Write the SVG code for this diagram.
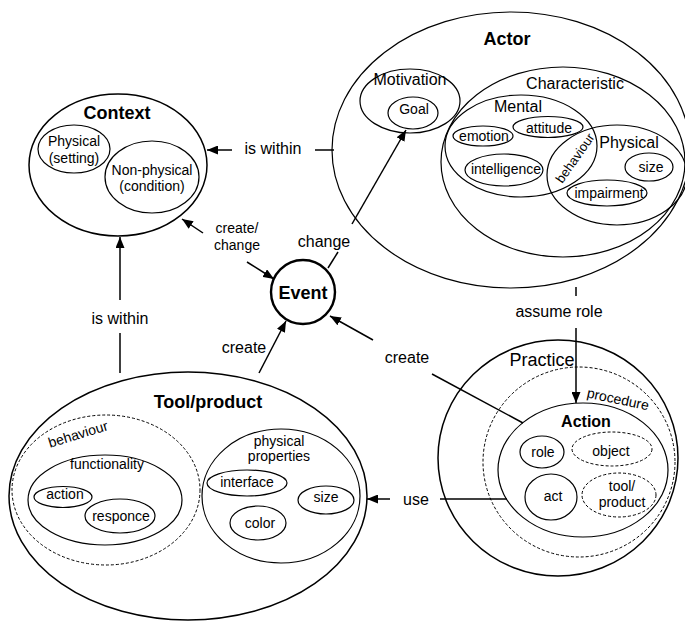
<svg xmlns="http://www.w3.org/2000/svg" width="685" height="621" viewBox="0 0 685 621">
  <style>
    .sh { fill: none; stroke: #000; stroke-width: 1.2; }
    .big { fill: none; stroke: #000; stroke-width: 1.5; }
    .dash { fill: none; stroke: #000; stroke-width: 1; stroke-dasharray: 3 2; }
    .ev { fill: #fff; stroke: #000; stroke-width: 2.4; }
    .ln { fill: none; stroke: #000; stroke-width: 1.5; }
    text { font-family: "Liberation Sans", Arial, sans-serif; fill: #000; text-anchor: middle; }
    .s { font-size: 14px; }
    .m { font-size: 16px; }
    .t { font-size: 18px; font-weight: bold; }
  </style>
  <defs>
    <marker id="arr" markerWidth="11" markerHeight="9" refX="11" refY="4.5" orient="auto" markerUnits="userSpaceOnUse">
      <path d="M0,0 L11,4.5 L0,9 Z" fill="#000"/>
    </marker>
  </defs>
  <rect width="685" height="621" fill="#fff"/>

  <!-- Context -->
  <g id="context">
    <ellipse class="big" cx="118" cy="165" rx="89" ry="71"/>
    <text class="t" x="117" y="119">Context</text>
    <ellipse class="sh" cx="74" cy="149" rx="36" ry="24"/>
    <text class="s" x="74" y="146">Physical</text>
    <text class="s" x="74" y="163">(setting)</text>
    <ellipse class="sh" cx="152" cy="177" rx="47" ry="36"/>
    <text class="s" x="152" y="175">Non-physical</text>
    <text class="s" x="152" y="191">(condition)</text>
  </g>

  <!-- Actor -->
  <g id="actor">
    <ellipse class="sh" cx="511" cy="150" rx="179" ry="138"/>
    <text class="t" x="507" y="45">Actor</text>
    <ellipse class="sh" cx="410" cy="101" rx="50" ry="32"/>
    <text class="m" x="410" y="85">Motivation</text>
    <ellipse class="sh" cx="413" cy="113" rx="25" ry="16"/>
    <text class="s" x="414" y="114">Goal</text>
    <ellipse class="sh" cx="563" cy="162" rx="122" ry="95"/>
    <text class="m" x="575" y="89">Characteristic</text>
    <ellipse class="sh" cx="521" cy="146" rx="76" ry="51"/>
    <text class="m" x="518" y="112">Mental</text>
    <ellipse class="sh" cx="483" cy="136" rx="30" ry="10"/>
    <text class="s" x="484" y="141">emotion</text>
    <ellipse class="sh" cx="548" cy="127" rx="35" ry="10.5"/>
    <text class="s" x="549" y="133">attitude</text>
    <ellipse class="sh" cx="504" cy="170" rx="39" ry="16"/>
    <text class="s" x="506" y="174">intelligence</text>
    <ellipse class="sh" cx="617" cy="175" rx="70" ry="50"/>
    <text class="m" x="629" y="148">Physical</text>
    <ellipse class="sh" cx="649" cy="167" rx="24" ry="14"/>
    <text class="s" x="651" y="172">size</text>
    <ellipse class="sh" cx="607" cy="193" rx="40" ry="13"/>
    <text class="s" x="609" y="198">impairment</text>
    <text transform="translate(575,158) rotate(-55)" x="0" y="4.5" style="font-size:13px">behaviour</text>
  </g>

  <!-- Event -->
  <g id="event">
    <circle class="ev" cx="303" cy="292" r="32"/>
    <text class="t" x="303" y="299">Event</text>
  </g>

  <!-- Tool/product -->
  <g id="tool-product">
    <ellipse class="big" cx="188" cy="496" rx="179" ry="124"/>
    <text class="t" x="208" y="408">Tool/product</text>
    <ellipse class="dash" cx="106" cy="490" rx="94" ry="75"/>
    <text class="s" transform="translate(78,434) rotate(-17)" x="0" y="5">behaviour</text>
    <ellipse class="sh" cx="105" cy="500" rx="77" ry="45"/>
    <text class="s" x="107" y="469">functionality</text>
    <ellipse class="sh" cx="63" cy="497" rx="29" ry="10.5"/>
    <text class="s" x="65" y="499">action</text>
    <ellipse class="sh" cx="120" cy="516" rx="35" ry="17"/>
    <text class="s" x="121" y="521">responce</text>
    <ellipse class="sh" cx="281" cy="496" rx="79" ry="67"/>
    <text class="s" x="279" y="446">physical</text>
    <text class="s" x="279" y="461">properties</text>
    <ellipse class="sh" cx="247" cy="483" rx="40" ry="13"/>
    <text class="s" x="247" y="487">interface</text>
    <ellipse class="sh" cx="326" cy="500" rx="28" ry="14"/>
    <text class="s" x="326" y="502">size</text>
    <ellipse class="sh" cx="258" cy="523" rx="28" ry="17"/>
    <text class="s" x="260" y="528">color</text>
  </g>

  <!-- Practice -->
  <g id="practice">
    <ellipse class="big" cx="558" cy="458" rx="120" ry="118"/>
    <text class="m" x="542" y="366" style="font-size:18px">Practice</text>
    <ellipse class="dash" cx="579" cy="462" rx="96" ry="95"/>
    <text class="s" transform="translate(618,399) rotate(12)" x="0" y="5">procedure</text>
    <ellipse class="sh" cx="583" cy="470" rx="85" ry="67"/>
    <text class="t" x="586" y="427" style="font-size:16px">Action</text>
    <ellipse class="sh" cx="542" cy="452" rx="22" ry="16"/>
    <text class="s" x="543" y="457">role</text>
    <ellipse class="dash" cx="612" cy="449" rx="40" ry="17"/>
    <text class="s" x="611" y="456">object</text>
    <ellipse class="sh" cx="551" cy="497" rx="26" ry="23"/>
    <text class="s" x="553" y="501">act</text>
    <ellipse class="dash" cx="619" cy="495" rx="37" ry="22"/>
    <text class="s" x="622" y="491">tool/</text>
    <text class="s" x="622" y="507">product</text>
  </g>

  <!-- Connectors -->
  <g id="connectors">
    <!-- Actor is within Context -->
    <line class="ln" x1="334" y1="150" x2="315" y2="150"/>
    <line class="ln" x1="232" y1="150" x2="207" y2="150" marker-end="url(#arr)"/>
    <text class="m" x="273" y="154">is within</text>

    <!-- Context create/change Event -->
    <line class="ln" x1="203" y1="233" x2="182" y2="219" marker-end="url(#arr)"/>
    <line class="ln" x1="247" y1="262" x2="274" y2="279" marker-end="url(#arr)"/>
    <text class="s" x="237" y="233">create/</text>
    <text class="s" x="237" y="250">change</text>

    <!-- Event change Goal -->
    <line class="ln" x1="328" y1="268" x2="338" y2="252"/>
    <line class="ln" x1="352" y1="224" x2="406" y2="130" marker-end="url(#arr)"/>
    <text class="m" x="324" y="247">change</text>

    <!-- Tool/product is within Context -->
    <line class="ln" x1="120" y1="300" x2="120" y2="237" marker-end="url(#arr)"/>
    <line class="ln" x1="120" y1="333" x2="120" y2="373"/>
    <text class="m" x="120" y="324">is within</text>

    <!-- Tool/product create Event -->
    <line class="ln" x1="259" y1="373" x2="286" y2="321" marker-end="url(#arr)"/>
    <text class="m" x="244" y="353">create</text>

    <!-- Action create Event -->
    <line class="ln" x1="523" y1="423" x2="432" y2="374"/>
    <line class="ln" x1="373" y1="340" x2="330" y2="316" marker-end="url(#arr)"/>
    <text class="m" x="407" y="363">create</text>

    <!-- Actor assume role Action -->
    <line class="ln" x1="576" y1="287" x2="576" y2="296"/>
    <line class="ln" x1="576" y1="328" x2="576" y2="403" marker-end="url(#arr)"/>
    <text class="m" x="559" y="317">assume role</text>

    <!-- Action use Tool/product -->
    <line class="ln" x1="507" y1="499" x2="440" y2="499"/>
    <line class="ln" x1="390" y1="499" x2="367" y2="499" marker-end="url(#arr)"/>
    <text class="m" x="416" y="505">use</text>
  </g>
</svg>
